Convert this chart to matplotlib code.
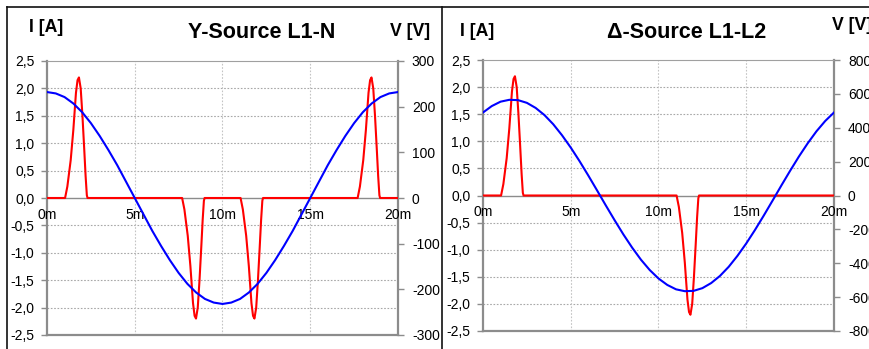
import matplotlib
matplotlib.use("Agg")
import matplotlib.pyplot as plt
from matplotlib.lines import Line2D
from matplotlib.ticker import FixedLocator, FuncFormatter

plt.rcParams['font.family'] = ['Liberation Sans', 'DejaVu Sans']
plt.rcParams['axes.unicode_minus'] = False

# time axis in ms, voltage sampled every 0.5 ms
t_volt = [i * 0.5 for i in range(41)]

v_wye = [232, 229, 221, 207, 188, 164, 136, 105, 72, 36, 0,
         -36, -72, -105, -136, -164, -188, -207, -221, -229, -232,
         -229, -221, -207, -188, -164, -136, -105, -72, -36, 0,
         36, 72, 105, 136, 164, 188, 207, 221, 229, 232]

v_delta = [490, 528, 554, 565, 563, 547, 517, 475, 421, 356, 283,
           203, 118, 30, -59, -146, -230, -308, -379, -440, -490,
           -528, -554, -565, -563, -547, -517, -475, -421, -356, -283,
           -203, -118, -30, 59, 146, 230, 308, 379, 440, 490]

# current pulses (ms, A)
t_cur_wye = [0, 1.03, 1.16, 1.35, 1.50, 1.65, 1.74, 1.82, 1.92, 2.02, 2.12, 2.20, 2.27, 2.31,
             7.70, 7.83, 8.02, 8.17, 8.32, 8.41, 8.49, 8.59, 8.69, 8.79, 8.87, 8.94, 8.98,
             11.03, 11.16, 11.35, 11.50, 11.65, 11.74, 11.82, 11.92, 12.02, 12.12, 12.20, 12.27, 12.31,
             17.70, 17.83, 18.02, 18.17, 18.32, 18.41, 18.49, 18.59, 18.69, 18.79, 18.87, 18.94, 18.98,
             20]
i_wye = [0, 0, 0.21, 0.69, 1.24, 1.92, 2.15, 2.2, 2.0, 1.5, 0.9, 0.4, 0.05, 0,
         0, -0.21, -0.69, -1.24, -1.92, -2.15, -2.2, -2.0, -1.5, -0.9, -0.4, -0.05, 0,
         0, -0.21, -0.69, -1.24, -1.92, -2.15, -2.2, -2.0, -1.5, -0.9, -0.4, -0.05, 0,
         0, 0.21, 0.69, 1.24, 1.92, 2.15, 2.2, 2.0, 1.5, 0.9, 0.4, 0.05, 0,
         0]

t_cur_delta = [0, 1.03, 1.16, 1.35, 1.50, 1.65, 1.74, 1.82, 1.92, 2.02, 2.12, 2.20, 2.27, 2.31,
               11.03, 11.16, 11.35, 11.50, 11.65, 11.74, 11.82, 11.92, 12.02, 12.12, 12.20, 12.27, 12.31,
               20]
i_delta = [0, 0, 0.21, 0.69, 1.24, 1.92, 2.15, 2.2, 2.0, 1.5, 0.9, 0.4, 0.05, 0,
           0, -0.21, -0.69, -1.24, -1.92, -2.15, -2.2, -2.0, -1.5, -0.9, -0.4, -0.05, 0,
           0]

i_ticks = [-2.5, -2.0, -1.5, -1.0, -0.5, 0.0, 0.5, 1.0, 1.5, 2.0, 2.5]
x_ticks = [0, 5, 10, 15, 20]
x_labels = ["0m", "5m", "10m", "15m", "20m"]
v_ticks_wye = [-300, -200, -100, 0, 100, 200, 300]
v_ticks_delta = [-800, -600, -400, -200, 0, 200, 400, 600, 800]

W, H = 870, 349
fig = plt.figure(figsize=(W / 100, H / 100), dpi=100)
fig.patch.set_facecolor('white')

SPINE = '#8c8c8c'
GRID = '#a8a8a8'


def px(x0, y0, x1, y1):
    return [x0 / W, 1 - y1 / H, (x1 - x0) / W, (y1 - y0) / H]


def panel(rect, t_i, cur, v, vmax, vticks):
    ax = fig.add_axes(rect)
    ax.set_xlim(0, 20)
    ax.set_ylim(-2.5, 2.5)
    ax.yaxis.set_major_locator(FixedLocator(i_ticks))
    ax.yaxis.set_major_formatter(FuncFormatter(lambda val, p: f"{val:.1f}".replace('.', ',')))
    ax.set_xticks([])
    for y in i_ticks[1:-1]:
        if y != 0:
            ax.axhline(y, color=GRID, lw=0.8, ls=(0, (1.5, 1.5)), zorder=0)
    for x in x_ticks[1:-1]:
        ax.axvline(x, color='#c4c4c4', lw=0.8, ls=(0, (1.5, 1.5)), zorder=0)
    ax.axhline(0, color=SPINE, lw=1.0, zorder=1)
    for s in ['left', 'right', 'bottom']:
        ax.spines[s].set_color(SPINE)
        ax.spines[s].set_linewidth(1.6)
    ax.spines['top'].set_color('#a0a0a0')
    ax.spines['top'].set_linewidth(0.8)
    ax.tick_params(axis='y', direction='out', length=4, color=SPINE, width=1, pad=5, labelsize=10)
    for x, lab in zip(x_ticks, x_labels):
        ax.annotate(lab, (x, 0), xytext=(0, -12), textcoords='offset points',
                    ha='center', va='center', fontsize=10)
    ax.plot(t_i, cur, color='#ff0000', lw=1.5, zorder=3)

    ax2 = ax.twinx()
    ax2.set_ylim(-vmax, vmax)
    ax2.set_yticks(vticks)
    ax2.plot(t_volt, v, color='#0000ff', lw=1.5, zorder=4)
    for s in ax2.spines.values():
        s.set_visible(False)
    ax2.tick_params(axis='y', direction='out', length=4, color=SPINE, width=1, pad=6, labelsize=10)
    return ax, ax2


panel(px(47, 61, 398, 335), t_cur_wye, i_wye, v_wye, 300, v_ticks_wye)
panel(px(483, 60, 834, 331), t_cur_delta, i_delta, v_delta, 800, v_ticks_delta)


def ftext(x, y, s, **kw):
    fig.text(x / W, 1 - y / H, s, va='center', fontweight='bold', **kw)


ftext(262, 32, "Y-Source L1-N", ha='center', fontsize=15.5)
ftext(687, 32, "Δ-Source L1-L2", ha='center', fontsize=15.5)
ftext(29, 28, "I [A]", ha='left', fontsize=12.7)
ftext(390, 31, "V [V]", ha='left', fontsize=12.7)
ftext(460, 31, "I [A]", ha='left', fontsize=12.7)
ftext(832, 25, "V [V]", ha='left', fontsize=12.7)

# outer frame lines
for xs, ys in [((7, W), (7, 7)), ((7, 7), (7, H)), ((442, 442), (7, H))]:
    fig.add_artist(Line2D([x / W for x in xs], [1 - y / H for y in ys],
                          color='#111111', lw=1.2, transform=fig.transFigure))

fig.savefig("out.png", dpi=100)
